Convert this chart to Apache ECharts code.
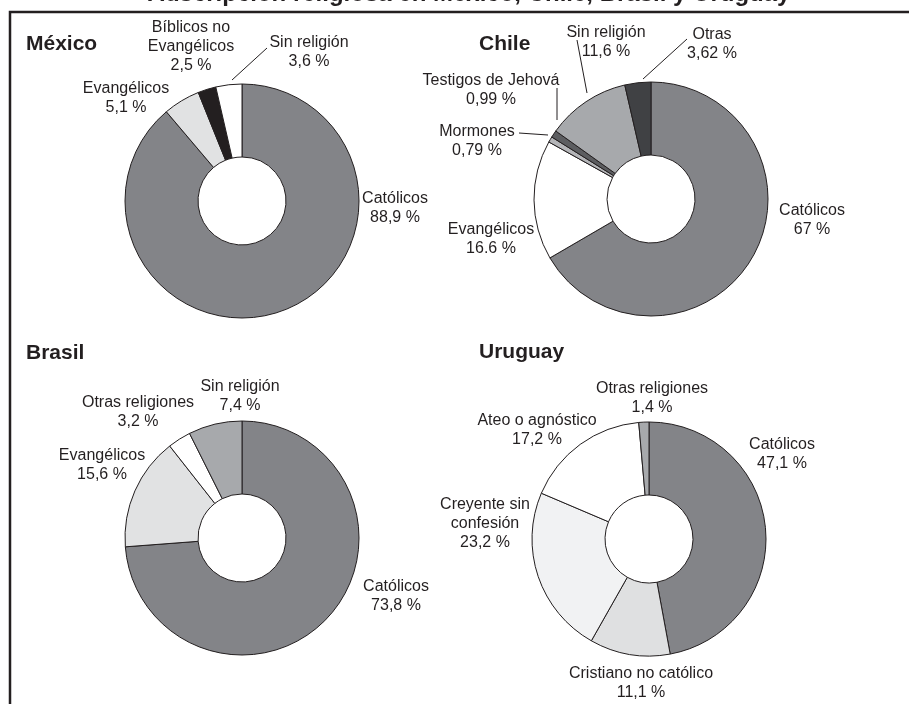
<!DOCTYPE html>
<html>
<head>
<meta charset="utf-8">
<script src="https://cdn.jsdelivr.net/npm/echarts@6/dist/echarts.min.js"></script>
<style>
  html, body { margin: 0; padding: 0; background: #fff; }
  #chart { width: 909px; height: 704px; }
</style>
</head>
<body>
<div id="chart"></div>
<script>
// values
const mexicoNames = ['Católicos', 'Evangélicos', 'Bíblicos no\nEvangélicos', 'Sin religión'];
const mexicoValues = [88.9, 5.1, 2.5, 3.6];
const mexicoText = ['88,9 %', '5,1 %', '2,5 %', '3,6 %'];

const chileNames = ['Católicos', 'Evangélicos', 'Mormones', 'Testigos de Jehová', 'Sin religión', 'Otras'];
const chileValues = [67, 16.6, 0.79, 0.99, 11.6, 3.62];
const chileText = ['67 %', '16.6 %', '0,79 %', '0,99 %', '11,6 %', '3,62 %'];

const brasilNames = ['Católicos', 'Evangélicos', 'Otras religiones', 'Sin religión'];
const brasilValues = [73.8, 15.6, 3.2, 7.4];
const brasilText = ['73,8 %', '15,6 %', '3,2 %', '7,4 %'];

const uruguayNames = ['Católicos', 'Cristiano no católico', 'Creyente sin\nconfesión', 'Ateo o agnóstico', 'Otras religiones'];
const uruguayValues = [47.1, 11.1, 23.2, 17.2, 1.4];
const uruguayText = ['47,1 %', '11,1 %', '23,2 %', '17,2 %', '1,4 %'];

// styling / placement
const CAT = '#838488';
const INK = '#231f20';
const FONT = '"Liberation Sans", Arial, Helvetica, sans-serif';

const panels = [
  {
    title: 'México', titlePos: [26, 34], center: [242, 201],
    names: mexicoNames, values: mexicoValues, text: mexicoText,
    colors: [CAT, '#e1e2e3', INK, '#ffffff'],
    labelPos: [[395, 208], [126, 98], [191, 47], [309, 52]],
    lines: [null, null, null, [[232, 80], [267, 48]]]
  },
  {
    title: 'Chile', titlePos: [479, 34], center: [651, 199],
    names: chileNames, values: chileValues, text: chileText,
    colors: [CAT, '#ffffff', '#b4b5b8', '#5c5d60', '#a7a9ac', '#404144'],
    labelPos: [[812, 220], [491, 239], [477, 141], [491, 90], [606, 42], [712, 44]],
    lines: [null, null, [[548, 135], [519, 133]], [[557, 120], [557, 88]], [[587, 93], [577, 40]], [[643, 79], [687, 39]]]
  },
  {
    title: 'Brasil', titlePos: [26, 343], center: [242, 538],
    names: brasilNames, values: brasilValues, text: brasilText,
    colors: [CAT, '#e1e2e3', '#ffffff', '#a7a9ac'],
    labelPos: [[396, 596], [102, 465], [138, 412], [240, 396]],
    lines: [null, null, null, null]
  },
  {
    title: 'Uruguay', titlePos: [479, 342], center: [649, 539],
    names: uruguayNames, values: uruguayValues, text: uruguayText,
    colors: [CAT, '#dfe0e1', '#f1f2f3', '#ffffff', '#a7a9ac'],
    labelPos: [[782, 454], [641, 683], [485, 524], [537, 430], [652, 398]],
    lines: [null, null, null, null, null]
  }
];

const myChart = echarts.init(document.getElementById('chart'), null, { renderer: 'canvas' });

const titles = [{
  text: 'Adscripción religiosa en México, Chile, Brasil y Uruguay',
  left: 469, top: -18, padding: 0, textAlign: 'center',
  textStyle: { fontFamily: FONT, fontSize: 24, fontWeight: 'bold', color: INK }
}];
panels.forEach(function (p) {
  titles.push({
    text: p.title, left: p.titlePos[0], top: p.titlePos[1], padding: 0,
    textStyle: { fontFamily: FONT, fontSize: 21, fontWeight: 'bold', color: INK }
  });
});

const series = panels.map(function (p) {
  return {
    type: 'pie',
    center: p.center,
    radius: [44, 117],
    startAngle: 90,
    clockwise: true,
    avoidLabelOverlap: false,
    silent: true,
    animation: false,
    itemStyle: { borderColor: INK, borderWidth: 1 },
    label: {
      show: true,
      position: 'outside',
      overflow: 'none',
      fontFamily: FONT,
      fontSize: 16,
      lineHeight: 19,
      color: INK,
      formatter: function (params) {
        return params.name + '\n' + p.text[params.dataIndex];
      }
    },
    labelLine: { show: false, lineStyle: { color: INK, width: 1 } },
    labelLayout: function (params) {
      const pos = p.labelPos[params.dataIndex];
      const out = { x: pos[0], y: pos[1], align: 'center', verticalAlign: 'middle' };
      const ln = p.lines[params.dataIndex];
      if (ln) out.labelLinePoints = ln;
      return out;
    },
    emphasis: { disabled: true },
    data: p.names.map(function (n, i) {
      return {
        name: n,
        value: p.values[i],
        itemStyle: { color: p.colors[i] },
        labelLine: { show: !!p.lines[i] }
      };
    })
  };
});

const option = {
  backgroundColor: '#ffffff',
  title: titles,
  graphic: [{
    type: 'rect',
    shape: { x: 10, y: 12, width: 940, height: 740 },
    style: { fill: 'none', stroke: INK, lineWidth: 2.5 },
    silent: true
  }],
  series: series
};

option && myChart.setOption(option);
</script>
</body>
</html>
